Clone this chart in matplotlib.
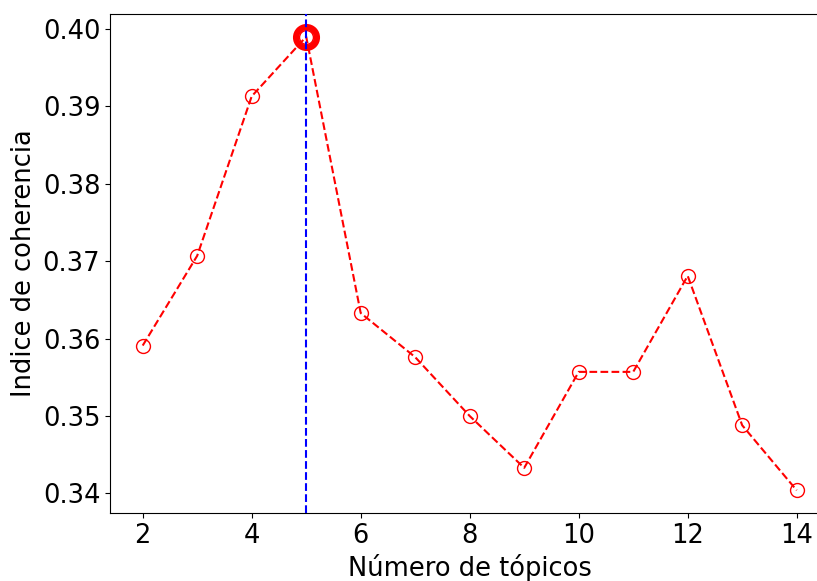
import matplotlib
matplotlib.use("Agg")
import matplotlib.pyplot as plt

topicos = [2, 3, 4, 5, 6, 7, 8, 9, 10, 11, 12, 13, 14]
coherencia = [0.3591, 0.3707, 0.3913, 0.3990, 0.3633, 0.3576, 0.3500,
              0.3433, 0.3557, 0.3557, 0.3681, 0.3488, 0.3404]
mejor_k = 5
mejor_valor = 0.3990

fig = plt.figure(figsize=(8.17, 5.81), dpi=100)
W, H = 817, 581
ax = fig.add_axes([110 / W, 1 - 513 / H, 719.4 / W, (513 - 14) / H])

ax.plot([mejor_k], [mejor_valor], 'o', color='red', markerfacecolor='none',
        markersize=15, markeredgewidth=4.5, zorder=1)
ax.plot(topicos, coherencia, 'o--', color='red', markerfacecolor='none',
        markersize=10, linewidth=1.5, zorder=2)
ax.axvline(mejor_k, color='blue', linestyle='--', linewidth=1.5, zorder=3)

ax.set_xlim(1.4, 14.6)
ax.set_xticks([2, 4, 6, 8, 10, 12, 14])
ax.tick_params(labelsize=18.5)
ax.set_xlabel('Número de tópicos', fontsize=18.5)
ax.set_ylabel('Indice de coherencia', fontsize=18.5)

fig.savefig('out.png', dpi=100)
